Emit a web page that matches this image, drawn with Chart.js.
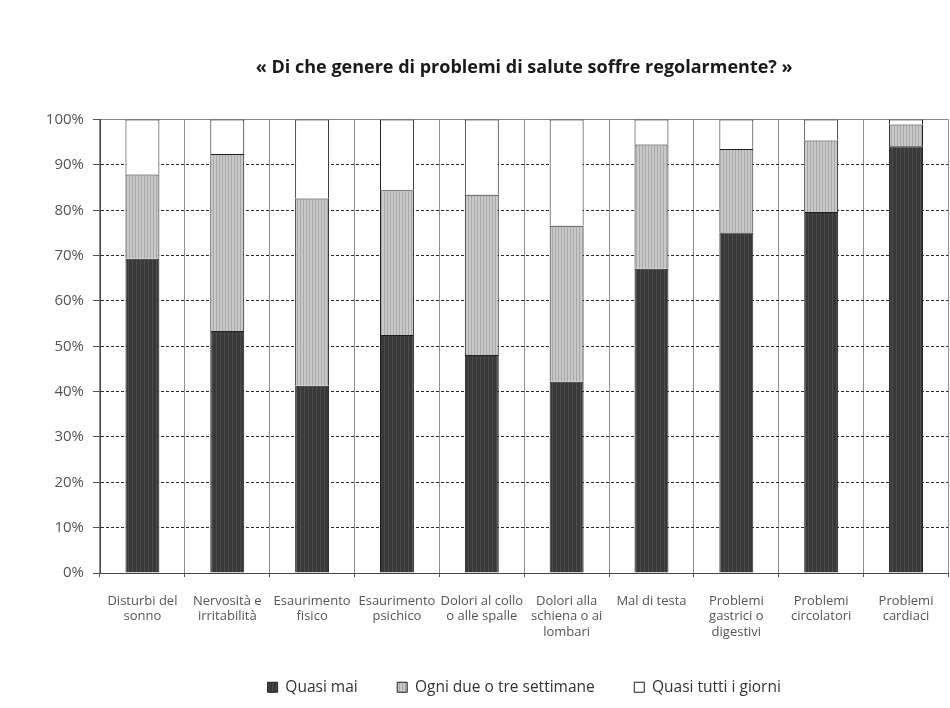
<!DOCTYPE html>
<html>
<head>
<meta charset="utf-8">
<script src="https://cdn.jsdelivr.net/npm/chart.js@4/dist/chart.umd.min.js"></script>
<style>
  html, body { margin: 0; padding: 0; background: #ffffff; }
  #wrap { width: 950px; height: 708px; }
</style>
</head>
<body>
<div id="wrap"><canvas id="c" width="950" height="708"></canvas></div>
<script>
// Categories (multi-line labels under each bar)
const categories = [
  ["Disturbi del", "sonno"],
  ["Nervosità e", "irritabilità"],
  ["Esaurimento", "fisico"],
  ["Esaurimento", "psichico"],
  ["Dolori al collo", "o alle spalle"],
  ["Dolori alla", "schiena o ai", "lombari"],
  ["Mal di testa"],
  ["Problemi", "gastrici o", "digestivi"],
  ["Problemi", "circolatori"],
  ["Problemi", "cardiaci"]
];

// Shares of respondents, in percent
const quasiMai   = [69.3, 53.4, 41.3, 52.5, 48.1, 42.2, 67.1, 75.1, 79.6, 94.1];
const ogniDueTre = [18.6, 39.0, 41.3, 31.9, 35.3, 34.4, 27.4, 18.4, 15.8, 4.8];
const quasiTutti = [12.1, 7.6, 17.4, 15.6, 16.6, 23.4, 5.5, 6.5, 4.6, 1.1];

const seriesNames = ["Quasi mai", "Ogni due o tre settimane", "Quasi tutti i giorni"];
const yTicks = [0, 10, 20, 30, 40, 50, 60, 70, 80, 90, 100];
const titleText = "« Di che genere di problemi di salute soffre regolarmente? »";

// Fine vertical hatching used as bar fill
function stripes(base, line, step) {
  const c = document.createElement('canvas');
  c.width = step; c.height = 8;
  const g = c.getContext('2d');
  g.fillStyle = base; g.fillRect(0, 0, step, 8);
  g.fillStyle = line; g.fillRect(0, 0, 1, 8);
  return g.createPattern(c, 'repeat');
}
const darkFill = stripes('#393939', '#4d4d4d', 4);
const greyFill = stripes('#c9c9c9', '#a8a8a8', 3);

const FONT = "'Open Sans', 'DejaVu Sans', sans-serif";

const common = { borderColor: '#1e1e1e', borderWidth: 1, categoryPercentage: 0.8, barPercentage: 0.5 };

new Chart(document.getElementById('c'), {
  type: 'bar',
  data: {
    labels: categories,
    datasets: [
      Object.assign({ label: seriesNames[0], data: quasiMai,   backgroundColor: darkFill }, common),
      Object.assign({ label: seriesNames[1], data: ogniDueTre, backgroundColor: greyFill }, common),
      Object.assign({ label: seriesNames[2], data: quasiTutti, backgroundColor: '#ffffff' }, common)
    ]
  },
  options: {
    responsive: false,
    animation: false,
    layout: { padding: { top: 0, right: 0, bottom: 3, left: 0 } },
    plugins: {
      tooltip: { enabled: false },
      title: {
        display: true,
        text: titleText,
        fullSize: false,
        color: '#1a1a1a',
        font: { family: FONT, size: 18, weight: 'bold', lineHeight: 1.2 },
        padding: { top: 57, bottom: 41 }
      },
      legend: {
        display: true,
        position: 'bottom',
        fullSize: false,
        labels: {
          color: '#333333',
          font: { family: FONT, size: 15.5 },
          boxWidth: 10,
          boxHeight: 10,
          padding: 39.5
        }
      }
    },
    scales: {
      x: {
        stacked: true,
        offset: true,
        grid: { color: '#8f8f8f', lineWidth: 1, offset: true, tickLength: 4, tickColor: '#555' },
        border: { color: '#444', width: 1 },
        ticks: {
          color: '#555555',
          font: { family: FONT, size: 13, lineHeight: 1.19 },
          padding: 16.5,
          maxRotation: 0,
          autoSkip: false
        },
        afterFit: (s) => { s.height = 67; }
      },
      y: {
        stacked: true,
        min: 0,
        max: 100,
        afterBuildTicks: (s) => { s.ticks = yTicks.map(v => ({ value: v })); },
        grid: {
          color: (ctx) => (ctx.tick && ctx.tick.value === 100) ? '#8a8a8a' : '#2a2a2a',
          lineWidth: 1,
          tickLength: 7,
          tickColor: '#555'
        },
        border: {
          color: '#444',
          width: 1,
          dash: (ctx) => (ctx.tick && (ctx.tick.value === 100 || ctx.tick.value === 0)) ? [] : [3, 2]
        },
        ticks: {
          color: '#555555',
          font: { family: FONT, size: 15 },
          padding: 9,
          callback: (v) => v + '%'
        },
        afterFit: (s) => { s.width = 100; }
      }
    }
  }
});
</script>
</body>
</html>
